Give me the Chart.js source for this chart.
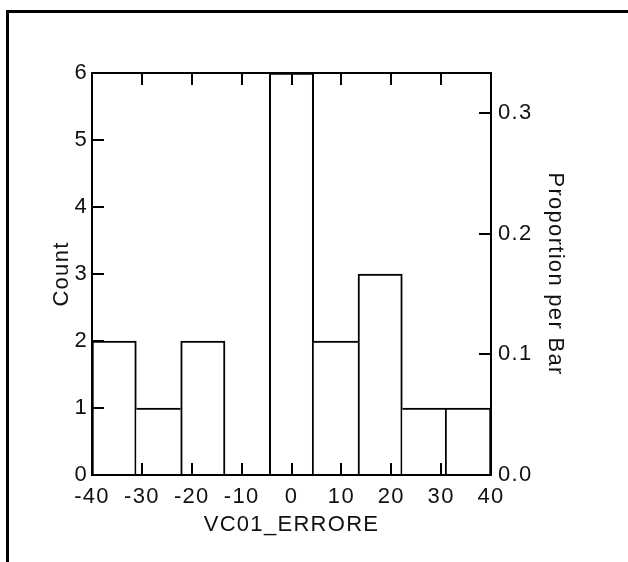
<!DOCTYPE html>
<html>
<head>
<meta charset="utf-8">
<script src="https://cdn.jsdelivr.net/npm/chart.js@4.4.1/dist/chart.umd.min.js"></script>
<style>
  html, body { margin: 0; padding: 0; background: #fff; }
  #wrap { position: relative; width: 628px; height: 562px; overflow: hidden; }
  #frame { position: absolute; left: 6px; top: 10px; width: 640px; height: 600px;
           border-top: 3px solid #000; border-left: 3px solid #000; box-sizing: border-box; }
  canvas { position: absolute; left: 0; top: 0; }
</style>
</head>
<body>
<div id="wrap">
  <div id="frame"></div>
  <canvas id="c" width="628" height="562"></canvas>
</div>
<script>
// Histogram of VC01_ERRORE: bin edges and counts per bin
const binEdges = [-40, -31.11, -22.22, -13.33, -4.44, 4.44, 13.33, 22.22, 31.11, 40];
const counts = [2, 1, 2, 0, 6, 2, 3, 1, 1];
const xTicks = [-40, -30, -20, -10, 0, 10, 20, 30, 40];
const countTicks = [0, 1, 2, 3, 4, 5, 6];
const proportionTicks = [0.0, 0.1, 0.2, 0.3];

const total = counts.reduce((a, b) => a + b, 0);
const countMax = 6;
const centers = counts.map((_, i) => (binEdges[i] + binEdges[i + 1]) / 2);
const points = counts.map((c, i) => ({ x: centers[i], y: c }));

const FONT = { family: "'Liberation Sans', Arial, sans-serif", size: 22 };
const INK = '#111';

// Each shared edge between two bins is drawn once, by the taller bin
function edgeWidths(ctx) {
  const i = ctx.dataIndex;
  const c = counts[i];
  const prev = i > 0 ? counts[i - 1] : -1;
  const next = i < counts.length - 1 ? counts[i + 1] : -1;
  return { top: 2, bottom: 0, left: c > prev ? 2 : 0, right: c >= next ? 2 : 0 };
}

const spacing = {
  id: 'spacing',
  beforeUpdate(chart) { chart.ctx.letterSpacing = '1.3px'; },
  beforeLayout(chart) { chart.ctx.letterSpacing = '1.3px'; },
  beforeDraw(chart) { chart.ctx.letterSpacing = '1.3px'; }
};

function fixedTicks(values) {
  return function (scale) { scale.ticks = values.map(v => ({ value: v })); };
}

// Tick marks point into the plot; axes are drawn above the bars
const gridCommon = {
  display: true,
  drawOnChartArea: false,
  drawTicks: true,
  tickLength: -12,
  tickWidth: 2,
  tickColor: '#000',
  lineWidth: 2,
  color: '#000',
  z: 1
};
const borderCommon = { display: true, color: '#000', width: 2, z: 1 };

new Chart(document.getElementById('c'), {
  type: 'bar',
  data: {
    datasets: [{
      data: points,
      backgroundColor: '#fff',
      borderColor: '#000',
      borderWidth: edgeWidths,
      borderSkipped: false,
      barPercentage: 1,
      categoryPercentage: 1,
      xAxisID: 'x',
      yAxisID: 'y'
    }]
  },
  options: {
    responsive: false,
    animation: false,
    devicePixelRatio: 1,
    layout: { padding: { top: 73, left: 0, right: 0, bottom: 0 } },
    plugins: { legend: { display: false }, tooltip: { enabled: false } },
    scales: {
      x: {
        type: 'linear', position: 'bottom', min: -40, max: 40, offset: false, z: 1,
        afterBuildTicks: fixedTicks(xTicks),
        afterFit(s) { s.height = 87; },
        grid: Object.assign({}, gridCommon, { offset: false }),
        border: borderCommon,
        ticks: { color: INK, font: FONT, padding: 21, maxRotation: 0, autoSkip: false, z: 1,
                 callback: v => String(v) },
        title: { display: true, text: 'VC01_ERRORE', color: INK, font: FONT,
                 padding: { top: 0, bottom: 24 } }
      },
      xTop: {
        type: 'linear', position: 'top', min: -40, max: 40, offset: false, z: 1,
        afterBuildTicks: fixedTicks(xTicks),
        afterFit(s) { s.height = 0; },
        grid: Object.assign({}, gridCommon, { offset: false }),
        border: borderCommon,
        ticks: { display: false, z: 1 }
      },
      y: {
        type: 'linear', position: 'left', min: 0, max: countMax, z: 1,
        afterBuildTicks: fixedTicks(countTicks),
        afterFit(s) { s.width = 92; },
        grid: gridCommon,
        border: borderCommon,
        ticks: { color: INK, font: FONT, padding: 16, z: 1, callback: v => String(v) },
        title: { display: true, text: 'Count', color: INK, font: FONT,
                 padding: { top: 49, bottom: 0 } }
      },
      yProp: {
        type: 'linear', position: 'right', min: 0, max: countMax / total, z: 1,
        afterBuildTicks: fixedTicks(proportionTicks),
        afterFit(s) { s.width = 137; },
        grid: gridCommon,
        border: borderCommon,
        ticks: { color: INK, font: FONT, padding: 19, z: 1, callback: v => v.toFixed(1) },
        title: { display: true, text: 'Proportion per Bar', color: INK, font: FONT,
                 padding: { top: 60, bottom: 0 } }
      }
    }
  },
  plugins: [spacing]
});
</script>
</body>
</html>
